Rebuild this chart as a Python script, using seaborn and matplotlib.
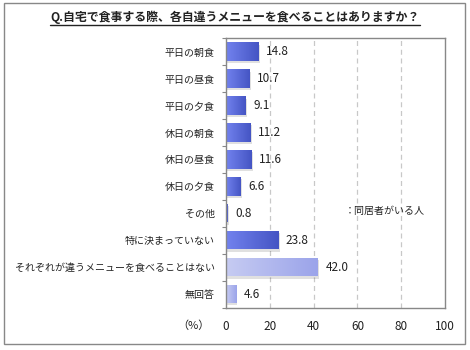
import matplotlib
matplotlib.use("Agg")
import matplotlib.pyplot as plt
import seaborn as sns
import pandas as pd
import numpy as np
from matplotlib.patches import Rectangle
from matplotlib.colors import LinearSegmentedColormap

categories = ["平日の朝食", "平日の昼食", "平日の夕食", "休日の朝食", "休日の昼食", "休日の夕食",
              "その他", "特に決まっていない", "それぞれが違うメニューを食べることはない", "無回答"]
values = [14.8, 10.7, 9.1, 11.2, 11.6, 6.6, 0.8, 23.8, 42.0, 4.6]
groups = ["a", "a", "a", "a", "a", "a", "a", "a", "b", "b"]
xticks = [0, 20, 40, 60, 80, 100]
title = "Q.自宅で食事する際、各自違うメニューを食べることはありますか？"
legend_text = "：同居者がいる人"

sns.set_theme(style="white")
plt.rcParams["font.family"] = ["Noto Sans CJK JP", "DejaVu Sans"]

df = pd.DataFrame({"cat": categories, "val": values, "grp": groups})
grad = {"a": ("#7282ee", "#4555c4"), "b": ("#c6cbf2", "#9ba4ea")}

fig = plt.figure(figsize=(4.70, 3.50), dpi=100)
ax = fig.add_axes([0.481, 0.121, 0.466, 0.770])

sns.barplot(data=df, y="cat", x="val", hue="grp", palette={"a": "#5a6ad6", "b": "#a4adeb"},
            orient="h", dodge=False, width=0.68, legend=False, ax=ax, saturation=1)

ax.set_xlim(0, 100)
ylim = ax.get_ylim()
g = np.linspace(0, 1, 64).reshape(1, -1)
for p, grp in zip(ax.patches, groups):
    x0, y0, w, h = p.get_x(), p.get_y(), p.get_width(), p.get_height()
    # soft shadow
    ax.add_patch(Rectangle((x0 + 0.6, y0 + 0.08), w, h, facecolor="#000000", alpha=0.12,
                           edgecolor="none", zorder=1.5))
    cmap = LinearSegmentedColormap.from_list("g", list(grad[grp]))
    im = ax.imshow(g, extent=[x0, x0 + w, y0 + h, y0], cmap=cmap, aspect="auto", zorder=2.5)
    im.set_clip_path(p)
ax.set_xlim(0, 100)
ax.set_ylim(ylim)

ax.set_xticks(xticks)
ax.set_xticklabels([str(t) for t in xticks], fontsize=8.5, color="#222222")
ax.set_yticks(np.arange(len(categories) + 1) - 0.5, minor=True)
ax.tick_params(axis="y", which="major", labelsize=7.2, length=0, pad=8, colors="#222222")
ax.tick_params(axis="y", which="minor", length=3, width=0.8, color="#888888", left=True)
ax.tick_params(axis="x", length=0, pad=9)
ax.set_xlabel("")
ax.set_ylabel("")
for t in xticks[1:-1]:
    ax.axvline(t, color="#c8c8c8", lw=0.9, ls=(0, (4, 3)), zorder=0)
for s in ax.spines.values():
    s.set_color("#888888")
    s.set_linewidth(1.0)
    s.set_visible(True)

for p, v in zip(ax.patches, values):
    y = p.get_y() + p.get_height() / 2
    ax.text(p.get_width() + 3.5, y, f"{v:.1f}", va="center", ha="left", fontsize=8.5, color="#222222")

fig.text(193 / 470, 1 - 326 / 350, "（%）", ha="center", va="center", fontsize=8, color="#222222")
fig.text(345 / 470, 1 - 211 / 350, legend_text, ha="left", va="center", fontsize=7.2, color="#222222")

t = fig.text(0.5, 1 - 17 / 350, title, ha="center", va="center", fontsize=8.6,
             fontweight="bold", color="#222222")
fig.canvas.draw()
bb = t.get_window_extent()
fig.add_artist(plt.Line2D([bb.x0 / 470, bb.x1 / 470], [(bb.y0 - 1) / 350] * 2,
                          transform=fig.transFigure, color="#222222", lw=1))

fig.add_artist(Rectangle((4 / 470, 6 / 350), 461 / 470, 341 / 350, transform=fig.transFigure,
                         fill=False, edgecolor="#888888", lw=1))

fig.savefig("out.png", dpi=100)
